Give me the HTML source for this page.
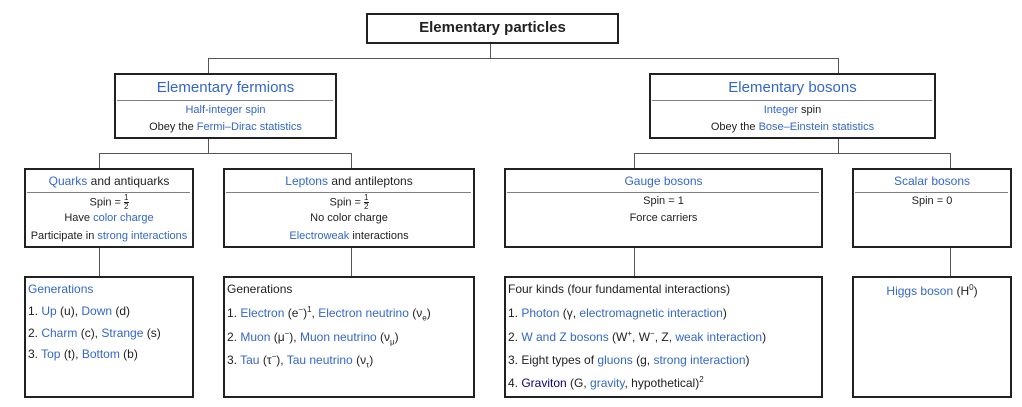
<!DOCTYPE html>
<html><head><meta charset="utf-8"><style>
html,body{margin:0;padding:0;background:#fff;}
body{width:1022px;height:407px;position:relative;overflow:hidden;font-family:"Liberation Sans",Arial,sans-serif;color:#202122;}
.b{position:absolute;border:2px solid #202122;box-sizing:border-box;background:#fff;}
.l{position:absolute;background:#555;}
.t{position:absolute;white-space:nowrap;font-size:11px;line-height:14px;}
.c{text-align:center;}
.sep{position:absolute;height:1px;background:#808080;}
a{color:#3366cc;text-decoration:none;}
a.v{color:#0b0080;}
sup,sub{font-size:8px;line-height:0;}
.fr{display:inline-block;vertical-align:middle;text-align:center;font-size:8px;line-height:8px;}
.fr span{display:block;}
.fr span:first-child{border-bottom:1px solid #202122;}
.g{font-size:12px;line-height:14px;}
</style></head><body>

<!-- connectors -->
<div class="l" style="left:490px;top:43px;width:1px;height:15px"></div>
<div class="l" style="left:208px;top:58px;width:631px;height:1px"></div>
<div class="l" style="left:208px;top:58px;width:1px;height:15px"></div>
<div class="l" style="left:838px;top:58px;width:1px;height:15px"></div>

<div class="l" style="left:208px;top:138px;width:1px;height:15px"></div>
<div class="l" style="left:99px;top:153px;width:253px;height:1px"></div>
<div class="l" style="left:99px;top:153px;width:1px;height:15px"></div>
<div class="l" style="left:351px;top:153px;width:1px;height:15px"></div>

<div class="l" style="left:838px;top:138px;width:1px;height:15px"></div>
<div class="l" style="left:634px;top:153px;width:317px;height:1px"></div>
<div class="l" style="left:634px;top:153px;width:1px;height:15px"></div>
<div class="l" style="left:950px;top:153px;width:1px;height:15px"></div>

<div class="l" style="left:99px;top:247px;width:1px;height:29px"></div>
<div class="l" style="left:351px;top:247px;width:1px;height:29px"></div>
<div class="l" style="left:634px;top:247px;width:1px;height:29px"></div>
<div class="l" style="left:950px;top:247px;width:1px;height:29px"></div>

<!-- top -->
<div class="b" style="left:366px;top:13px;width:253px;height:31px"></div>
<div class="t c" style="left:366px;width:253px;top:19px;font-size:15px;line-height:18px;font-weight:bold;">Elementary particles</div>

<!-- fermions -->
<div class="b" style="left:114px;top:73px;width:223px;height:66px"></div>
<div class="t c" style="left:114px;width:223px;top:79px;font-size:15px;line-height:18px;"><a>Elementary fermions</a></div>
<div class="sep" style="left:117px;width:216px;top:100px"></div>
<div class="t c" style="left:114px;width:223px;top:103px"><a>Half-integer spin</a></div>
<div class="t c" style="left:114px;width:223px;top:120px">Obey the <a>Fermi–Dirac statistics</a></div>

<!-- bosons -->
<div class="b" style="left:649px;top:73px;width:287px;height:66px"></div>
<div class="t c" style="left:649px;width:287px;top:79px;font-size:15px;line-height:18px;"><a>Elementary bosons</a></div>
<div class="sep" style="left:652px;width:280px;top:100px"></div>
<div class="t c" style="left:649px;width:287px;top:103px"><a>Integer</a> spin</div>
<div class="t c" style="left:649px;width:287px;top:120px">Obey the <a>Bose–Einstein statistics</a></div>

<!-- quarks -->
<div class="b" style="left:24px;top:168px;width:170px;height:80px"></div>
<div class="t c g" style="left:24px;width:170px;top:174px"><a>Quarks</a> and antiquarks</div>
<div class="sep" style="left:27px;width:163px;top:192px"></div>
<div class="t c" style="left:24px;width:170px;top:194px">Spin = <span class="fr"><span>1</span><span>2</span></span></div>
<div class="t c" style="left:24px;width:170px;top:211px">Have <a>color charge</a></div>
<div class="t c" style="left:24px;width:170px;top:229px">Participate in <a>strong interactions</a></div>

<!-- leptons -->
<div class="b" style="left:223px;top:168px;width:252px;height:80px"></div>
<div class="t c g" style="left:223px;width:252px;top:174px"><a>Leptons</a> and antileptons</div>
<div class="sep" style="left:226px;width:245px;top:192px"></div>
<div class="t c" style="left:223px;width:252px;top:194px">Spin = <span class="fr"><span>1</span><span>2</span></span></div>
<div class="t c" style="left:223px;width:252px;top:211px">No color charge</div>
<div class="t c" style="left:223px;width:252px;top:229px"><a>Electroweak</a> interactions</div>

<!-- gauge -->
<div class="b" style="left:504px;top:168px;width:319px;height:80px"></div>
<div class="t c g" style="left:504px;width:319px;top:174px"><a>Gauge bosons</a></div>
<div class="sep" style="left:507px;width:312px;top:192px"></div>
<div class="t c" style="left:504px;width:319px;top:194px">Spin = 1</div>
<div class="t c" style="left:504px;width:319px;top:211px">Force carriers</div>

<!-- scalar -->
<div class="b" style="left:852px;top:168px;width:160px;height:80px"></div>
<div class="t c g" style="left:852px;width:160px;top:174px"><a>Scalar bosons</a></div>
<div class="sep" style="left:855px;width:153px;top:192px"></div>
<div class="t c" style="left:852px;width:160px;top:194px">Spin = 0</div>

<!-- bottom boxes -->
<div class="b" style="left:24px;top:276px;width:170px;height:122px"></div>
<div class="t g" style="left:28px;top:282px"><a>Generations</a></div>
<div class="t g" style="left:28px;top:304px">1. <a>Up</a> (u), <a>Down</a> (d)</div>
<div class="t g" style="left:28px;top:326px">2. <a>Charm</a> (c), <a>Strange</a> (s)</div>
<div class="t g" style="left:28px;top:347px">3. <a>Top</a> (t), <a>Bottom</a> (b)</div>

<div class="b" style="left:223px;top:276px;width:252px;height:122px"></div>
<div class="t g" style="left:227px;top:282px">Generations</div>
<div class="t g" style="left:227px;top:306px">1. <a>Electron</a> (e<sup>−</sup>)<sup>1</sup>, <a>Electron neutrino</a> (ν<sub>e</sub>)</div>
<div class="t g" style="left:227px;top:330px">2. <a>Muon</a> (μ<sup>−</sup>), <a>Muon neutrino</a> (ν<sub>μ</sub>)</div>
<div class="t g" style="left:227px;top:353px">3. <a>Tau</a> (τ<sup>−</sup>), <a>Tau neutrino</a> (ν<sub>τ</sub>)</div>

<div class="b" style="left:504px;top:276px;width:319px;height:122px"></div>
<div class="t g" style="left:508px;top:282px">Four kinds (four fundamental interactions)</div>
<div class="t g" style="left:508px;top:306px">1. <a>Photon</a> (γ, <a>electromagnetic interaction</a>)</div>
<div class="t g" style="left:508px;top:330px">2. <a>W and Z bosons</a> (W<sup>+</sup>, W<sup>−</sup>, Z, <a>weak interaction</a>)</div>
<div class="t g" style="left:508px;top:353px">3. Eight types of <a>gluons</a> (g, <a>strong interaction</a>)</div>
<div class="t g" style="left:508px;top:376px">4. <a class="v">Graviton</a> (G, <a>gravity</a>, hypothetical)<sup>2</sup></div>

<div class="b" style="left:852px;top:276px;width:160px;height:122px"></div>
<div class="t c g" style="left:852px;width:160px;top:284px"><a>Higgs boson</a> (H<sup>0</sup>)</div>

</body></html>
